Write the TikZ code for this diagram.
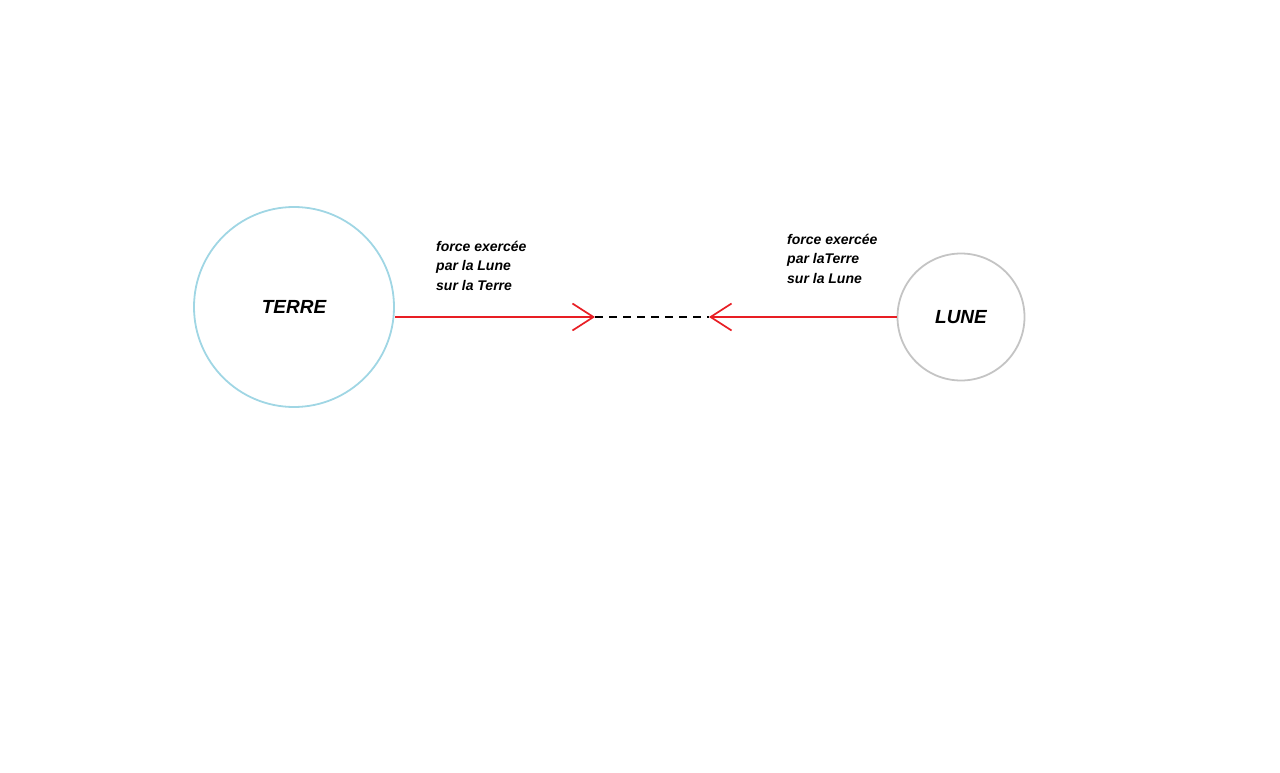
\documentclass[tikz,border=0pt]{standalone}
\usepackage{fontspec}
\setmainfont{Liberation Sans}
\usetikzlibrary{arrows.meta}
\definecolor{terreblue}{RGB}{160,214,228}
\definecolor{lunegray}{RGB}{196,196,196}
\definecolor{forcered}{RGB}{232,30,36}
\begin{document}
\begin{tikzpicture}[x=1pt,y=-1pt,
  body/.style={circle,line width=1.8pt,inner sep=0pt,font=\fontsize{19}{22}\selectfont\bfseries\itshape},
  lbl/.style={anchor=base west,align=left,inner sep=0pt,font=\fontsize{14}{19.5}\selectfont\bfseries\itshape},
  force/.style={draw=forcered,line width=1.7pt,-{Straight Barb[length=21pt,width=27pt,line width=1.7pt]}},
  link/.style={draw=black,line width=1.7pt,dash pattern=on 8pt off 6pt}]
\useasboundingbox (0,0) rectangle (1280,773);
\node[body,draw=terreblue,minimum size=200pt] (terre) at (294,307) {TERRE};
\node[body,draw=lunegray,minimum size=127pt] (lune) at (961,317) {LUNE};
\coordinate (tipA) at (595,317);
\coordinate (tipB) at (709,317);
\draw[force] (terre.east |- tipA) -- (tipA);
\draw[force] (lune.west |- tipB) -- (tipB);
\draw[link] (tipA) -- (tipB);
\node[lbl] (la) at (436,290) {force exercée\\par la Lune\\sur la Terre};
\node[lbl] (lb) at (787,283) {force exercée\\par laTerre\\sur la Lune};
\end{tikzpicture}
\end{document}
